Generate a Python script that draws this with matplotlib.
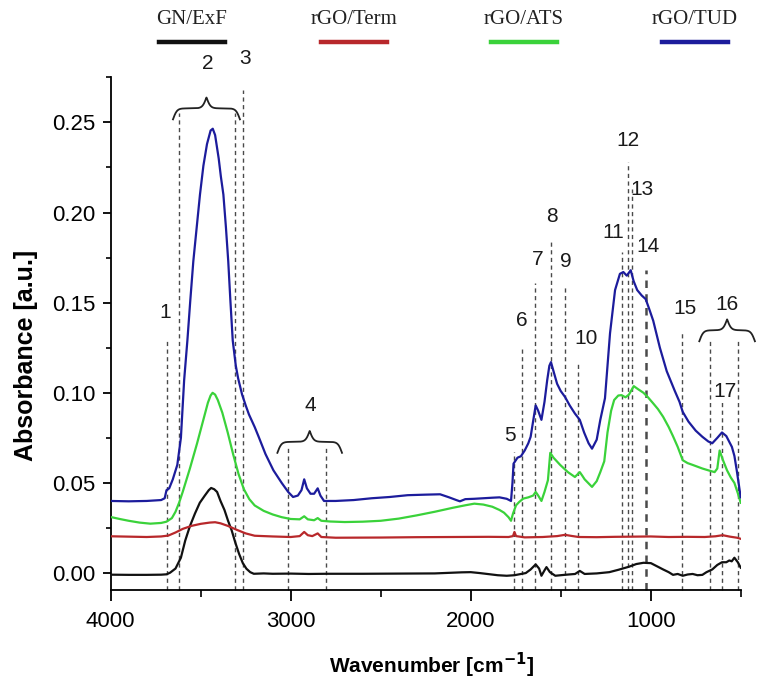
import numpy as np
import matplotlib.pyplot as plt
from matplotlib.lines import Line2D
from matplotlib.ticker import MultipleLocator, FormatStrFormatter

# FTIR spectra: (wavenumber cm-1, absorbance)
gn_exf = [(4000, -0.0009), (3900, -0.0010), (3800, -0.0010), (3720, -0.0009), (3690, -0.0007),
          (3670, 0.0002), (3640, 0.0025), (3610, 0.0085), (3586, 0.018), (3560, 0.026),
          (3532, 0.033), (3505, 0.039), (3477, 0.043), (3455, 0.046), (3442, 0.0472),
          (3425, 0.0465), (3409, 0.045), (3390, 0.040), (3368, 0.035), (3348, 0.029),
          (3328, 0.0237), (3308, 0.017), (3287, 0.0107), (3266, 0.0055), (3246, 0.0024),
          (3225, 0.0005), (3205, -0.0004), (3150, -0.0002), (3100, -0.0004), (3000, -0.0003),
          (2900, -0.0005), (2800, -0.0004), (2600, -0.0004), (2400, -0.0003), (2200, -0.0002),
          (2050, 0.0004), (2000, 0.0005), (1950, 0.0), (1850, -0.0012), (1800, -0.0015),
          (1757, -0.0012), (1694, 0.0), (1667, 0.0020), (1639, 0.0048), (1620, 0.0025),
          (1607, -0.0015), (1590, 0.0015), (1579, 0.0033), (1560, 0.0005), (1530, -0.0015),
          (1480, -0.0010), (1420, -0.0005), (1394, 0.0012), (1367, -0.0005), (1300, -0.0002),
          (1230, 0.0005), (1180, 0.0018), (1121, 0.0035), (1080, 0.0050), (1040, 0.0057),
          (999, 0.0055), (960, 0.0035), (931, 0.0020), (900, 0.0005), (876, -0.0010),
          (850, -0.0005), (822, -0.0015), (795, -0.0008), (767, -0.0005), (740, -0.0012),
          (713, -0.0010), (690, 0.0005), (658, 0.0020), (630, 0.0045), (604, 0.0060),
          (580, 0.0060), (563, 0.0070), (550, 0.0065), (535, 0.0085), (516, 0.0060), (500, 0.0030)]

rgo_term = [(4000, 0.0204), (3900, 0.0202), (3800, 0.0200), (3720, 0.0203), (3680, 0.0208),
            (3640, 0.0225), (3600, 0.0245), (3550, 0.0262), (3500, 0.0273), (3450, 0.0280),
            (3420, 0.0282), (3390, 0.0276), (3350, 0.0262), (3300, 0.0240), (3250, 0.0220),
            (3200, 0.0207), (3100, 0.0203), (3000, 0.0200), (2950, 0.0205), (2925, 0.0228),
            (2905, 0.0210), (2880, 0.0205), (2850, 0.0220), (2830, 0.0200), (2750, 0.0196),
            (2500, 0.0197), (2300, 0.0199), (2100, 0.0200), (1900, 0.0201), (1790, 0.0200),
            (1765, 0.0205), (1757, 0.0228), (1748, 0.0205), (1700, 0.0198), (1600, 0.0200),
            (1520, 0.0205), (1476, 0.0212), (1440, 0.0206), (1400, 0.0200), (1300, 0.0199),
            (1200, 0.0201), (1100, 0.0202), (1000, 0.0203), (900, 0.0200), (800, 0.0201),
            (700, 0.0200), (640, 0.0204), (600, 0.0210), (560, 0.0202), (520, 0.0196), (500, 0.0190)]

rgo_ats = [(4000, 0.0311), (3950, 0.0300), (3900, 0.0290), (3840, 0.0280), (3780, 0.0274),
           (3720, 0.0278), (3690, 0.0285), (3660, 0.0305), (3640, 0.0340), (3620, 0.0390),
           (3600, 0.0450), (3580, 0.0515), (3560, 0.0580), (3540, 0.0650), (3520, 0.0720),
           (3500, 0.0795), (3480, 0.0870), (3460, 0.0945), (3445, 0.0985), (3434, 0.1000),
           (3420, 0.0990), (3405, 0.0960), (3380, 0.0890), (3350, 0.0780), (3320, 0.0660),
           (3290, 0.0550), (3260, 0.0465), (3230, 0.0410), (3200, 0.0375), (3150, 0.0345),
           (3100, 0.0325), (3050, 0.0310), (3000, 0.0300), (2950, 0.0298), (2925, 0.0315),
           (2905, 0.0298), (2870, 0.0293), (2850, 0.0305), (2830, 0.0290), (2780, 0.0286),
           (2700, 0.0283), (2600, 0.0285), (2500, 0.0290), (2400, 0.0302), (2300, 0.0320),
           (2200, 0.0340), (2100, 0.0362), (2030, 0.0376), (1980, 0.0385), (1930, 0.0380),
           (1880, 0.0368), (1840, 0.0350), (1815, 0.0335), (1790, 0.0310), (1776, 0.0290),
           (1765, 0.0330), (1748, 0.0376), (1730, 0.0395), (1708, 0.0413), (1680, 0.0420),
           (1653, 0.0430), (1639, 0.0450), (1625, 0.0430), (1607, 0.0400), (1590, 0.0450),
           (1571, 0.0515), (1558, 0.0667), (1540, 0.0640), (1503, 0.0600), (1460, 0.0560),
           (1421, 0.0533), (1394, 0.0560), (1380, 0.0540), (1367, 0.0520), (1326, 0.0478),
           (1300, 0.0510), (1280, 0.0560), (1258, 0.0620), (1240, 0.0780), (1220, 0.0900),
           (1203, 0.0960), (1180, 0.0985), (1162, 0.0987), (1140, 0.0975), (1121, 0.0990),
           (1094, 0.1037), (1070, 0.1020), (1040, 0.1000), (1015, 0.0975), (985, 0.0940),
           (960, 0.0910), (931, 0.0867), (900, 0.0810), (876, 0.0759), (850, 0.0700),
           (822, 0.0626), (795, 0.0610), (767, 0.0600), (740, 0.0590), (713, 0.0580),
           (680, 0.0570), (645, 0.0560), (630, 0.0580), (617, 0.0680), (600, 0.0630),
           (576, 0.0570), (555, 0.0530), (535, 0.0500), (515, 0.0440), (500, 0.0390)]

rgo_tud = [(4000, 0.0400), (3900, 0.0398), (3800, 0.0400), (3720, 0.0405), (3700, 0.0415),
           (3690, 0.0460), (3675, 0.0470), (3655, 0.0520), (3630, 0.0600), (3610, 0.0750),
           (3592, 0.1070), (3574, 0.1290), (3558, 0.1510), (3541, 0.1730), (3522, 0.1920),
           (3504, 0.2100), (3485, 0.2260), (3465, 0.2380), (3445, 0.2455), (3433, 0.2465),
           (3420, 0.2430), (3400, 0.2300), (3388, 0.2200), (3374, 0.2100), (3360, 0.1920),
           (3347, 0.1730), (3335, 0.1510), (3322, 0.1290), (3305, 0.1150), (3292, 0.1080),
           (3270, 0.0990), (3250, 0.0930), (3232, 0.0880), (3200, 0.0810), (3178, 0.0756),
           (3140, 0.0660), (3096, 0.0570), (3050, 0.0500), (3014, 0.0450), (2987, 0.0422),
           (2960, 0.0430), (2940, 0.0460), (2925, 0.0520), (2910, 0.0470), (2890, 0.0440),
           (2870, 0.0440), (2850, 0.0470), (2835, 0.0430), (2815, 0.0400), (2750, 0.0400),
           (2650, 0.0405), (2550, 0.0415), (2450, 0.0422), (2350, 0.0432), (2250, 0.0435),
           (2170, 0.0437), (2120, 0.0420), (2080, 0.0405), (2060, 0.0398), (2030, 0.0410),
           (1980, 0.0412), (1930, 0.0415), (1880, 0.0418), (1840, 0.0420), (1800, 0.0412),
           (1776, 0.0400), (1768, 0.0500), (1762, 0.0607), (1740, 0.0640), (1721, 0.0648),
           (1700, 0.0680), (1680, 0.0720), (1667, 0.0756), (1652, 0.0850), (1639, 0.0930),
           (1625, 0.0900), (1607, 0.0850), (1590, 0.0950), (1575, 0.1070), (1563, 0.1150),
           (1554, 0.1170), (1540, 0.1120), (1520, 0.1050), (1500, 0.1010), (1476, 0.0977),
           (1450, 0.0930), (1421, 0.0885), (1394, 0.0850), (1370, 0.0780), (1345, 0.0720),
           (1326, 0.0690), (1300, 0.0740), (1280, 0.0850), (1254, 0.0970), (1226, 0.1330),
           (1198, 0.1570), (1171, 0.1660), (1152, 0.1670), (1133, 0.1650), (1111, 0.1680),
           (1095, 0.1620), (1075, 0.1570), (1050, 0.1540), (1028, 0.1520), (1010, 0.1470),
           (986, 0.1400), (949, 0.1250), (911, 0.1120), (866, 0.1010), (840, 0.0950),
           (822, 0.0894), (790, 0.0840), (750, 0.0790), (713, 0.0756), (680, 0.0730),
           (658, 0.0720), (630, 0.0750), (604, 0.0780), (580, 0.0760), (549, 0.0700),
           (535, 0.0650), (522, 0.0570), (500, 0.0420)]

series_names = ['GN/ExF', 'rGO/Term', 'rGO/ATS', 'rGO/TUD']
series_data = [gn_exf, rgo_term, rgo_ats, rgo_tud]
series_colors = ['#111111', '#b8282b', '#3ad23a', '#1c1c9c']

# band markers: wavenumber and top of the dashed line
band_wn = [3687, 3620, 3309, 3263, 3014, 2802, 1757, 1713, 1643, 1554, 1474, 1406,
           1161, 1128, 1106, 1028, 824, 670, 604, 513]
band_top = [0.129, 0.255, 0.255, 0.268, 0.070, 0.070, 0.067, 0.125, 0.161, 0.184, 0.160, 0.116,
            0.178, 0.228, 0.213, 0.168, 0.133, 0.130, 0.095, 0.130]

# band numbers: text, wavenumber, absorbance
label_text = ['1', '2', '3', '4', '5', '6', '7', '8', '9', '10', '11', '12', '13', '14', '15', '16', '17']
label_wn = [3698, 3459, 3254, 2892, 1781, 1717, 1630, 1550, 1471, 1359, 1208, 1124, 1047, 1013, 810, 574, 587]
label_y = [0.1445, 0.2827, 0.2855, 0.093, 0.0765, 0.140, 0.174, 0.198, 0.173, 0.130, 0.189, 0.240,
           0.213, 0.181, 0.1465, 0.149, 0.101]

# curly brackets: from, to, height
brace_from = [3654, 3074, 730]
brace_to = [3282, 2715, 421]
brace_y = [0.2578, 0.0728, 0.1347]

W, H = 765, 692
plt.rcParams['font.family'] = ['Liberation Sans', 'DejaVu Sans']
fig = plt.figure(figsize=(W / 100, H / 100), dpi=100)
ax = fig.add_axes([110.7 / W, 1 - 590 / H, 630 / W, 513 / H])
ax.set_xlim(4000, 500)
ax.set_ylim(-0.0094, 0.2752)

for data, col in zip(series_data, series_colors):
    arr = np.array(data)
    ax.plot(arr[:, 0], arr[:, 1], color=col, lw=1.6, zorder=3)

ymin = ax.get_ylim()[0]
for wn, top in zip(band_wn, band_top):
    ax.plot([wn, wn], [ymin, top], color='#4a4a4a', lw=1.8 if wn == 1028 else 1.0,
            ls=(0, (3, 2.5)), clip_on=False, zorder=2)

for t, wn, y in zip(label_text, label_wn, label_y):
    ax.text(wn, y, t, ha='center', va='center', fontsize=15, color='#1a1a1a')


def brace(x0, x1, y, amp=11, k=2.0):
    p0 = ax.transData.transform((x0, y))
    p1 = ax.transData.transform((x1, y))
    width = p1[0] - p0[0]
    t = np.linspace(0, width, 400)
    half = width / 2
    tt = np.where(t <= half, t, width - t)
    s = 1 / (1 + np.exp(-tt / k)) + 1 / (1 + np.exp(-(tt - half) / k))
    pts = np.column_stack([p0[0] + t, p0[1] + (s - 1) * 2 * amp])
    d = ax.transData.inverted().transform(pts)
    ax.plot(d[:, 0], d[:, 1], color='#222222', lw=1.3, clip_on=False)


for x0, x1, y in zip(brace_from, brace_to, brace_y):
    brace(x0, x1, y)

for side in ['top', 'right']:
    ax.spines[side].set_visible(False)
ax.spines['left'].set_linewidth(1.3)
ax.spines['bottom'].set_linewidth(1.3)

ax.xaxis.set_major_locator(MultipleLocator(1000))
ax.xaxis.set_minor_locator(MultipleLocator(500))
ax.yaxis.set_major_locator(MultipleLocator(0.05))
ax.yaxis.set_minor_locator(MultipleLocator(0.025))
ax.yaxis.set_major_formatter(FormatStrFormatter('%.2f'))
ax.tick_params(axis='x', which='major', length=8, width=1.3, labelsize=16, pad=7)
ax.tick_params(axis='x', which='minor', length=5, width=1.2)
ax.tick_params(axis='y', which='major', length=6, width=1.3, labelsize=16, pad=5)
ax.tick_params(axis='y', which='minor', length=3.5, width=1.2)

fig.text(432 / W, 1 - 665 / H, 'Wavenumber [cm$^{\\mathbf{-1}}$]', ha='center', va='center',
         fontsize=15, fontweight='bold')
fig.text(26 / W, 1 - 355 / H, 'Absorbance [a.u.]', ha='center', va='center', rotation=90,
         fontsize=18, fontweight='bold')

# legend strip above the plot
legend_x = [192, 354, 524, 695]
for name, col, cx in zip(series_names, series_colors, legend_x):
    fig.text(cx / W, 1 - 20 / H, name, ha='center', va='center', fontsize=15,
             family='Liberation Serif', color='#222222')
    fig.add_artist(Line2D([(cx - 33) / W, (cx + 33) / W], [1 - 42 / H, 1 - 42 / H],
                          color=col, lw=3.2, transform=fig.transFigure))

fig.savefig('out.png', dpi=100)
